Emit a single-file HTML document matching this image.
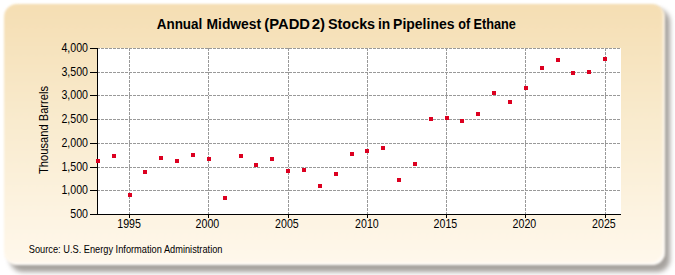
<!DOCTYPE html>
<html><head><meta charset="utf-8">
<style>
html,body{margin:0;padding:0;background:#fff;width:675px;height:275px;overflow:hidden;}
.panel{position:absolute;left:4px;top:4px;width:661px;height:261px;border-radius:13px;
background:linear-gradient(to bottom,#f5deb3 0%,#f9ebce 45%,#fff8ec 100%);box-shadow:inset -2px -2px 2px rgba(255,255,255,0.75);filter:blur(1.3px);}
.shadow{position:absolute;left:10px;top:9px;width:660px;height:263px;border-radius:13px;background:#a6a29e;filter:blur(2.6px);}
svg{position:absolute;left:0;top:0;}
text{font-family:"Liberation Sans",sans-serif;fill:#000;}
.g{stroke:#999;stroke-width:1;stroke-dasharray:3 1;shape-rendering:crispEdges;}
.a{stroke:#000;stroke-width:1;shape-rendering:crispEdges;}
.m{fill:#dc0020;}
.yl{font-size:12.5px;text-anchor:end;}
.xl{font-size:12.5px;text-anchor:middle;}
.t{font-size:14px;font-weight:bold;}
.s{font-size:10px;}
.yt{font-size:12px;text-anchor:middle;}
</style></head><body>
<div class="shadow"></div><div class="panel"></div>
<svg width="675" height="275" viewBox="0 0 675 275">
<rect x="98" y="48" width="523" height="166" fill="#fff"/>
<line x1="97" y1="48.5" x2="621" y2="48.5" class="g"/>
<line x1="97" y1="72.5" x2="621" y2="72.5" class="g"/>
<line x1="97" y1="95.5" x2="621" y2="95.5" class="g"/>
<line x1="97" y1="119.5" x2="621" y2="119.5" class="g"/>
<line x1="97" y1="143.5" x2="621" y2="143.5" class="g"/>
<line x1="97" y1="167.5" x2="621" y2="167.5" class="g"/>
<line x1="97" y1="190.5" x2="621" y2="190.5" class="g"/>
<line x1="129.5" y1="48" x2="129.5" y2="214" class="g"/>
<line x1="208.5" y1="48" x2="208.5" y2="214" class="g"/>
<line x1="288.5" y1="48" x2="288.5" y2="214" class="g"/>
<line x1="367.5" y1="48" x2="367.5" y2="214" class="g"/>
<line x1="446.5" y1="48" x2="446.5" y2="214" class="g"/>
<line x1="525.5" y1="48" x2="525.5" y2="214" class="g"/>
<line x1="605.5" y1="48" x2="605.5" y2="214" class="g"/>
<line x1="97.5" y1="48" x2="97.5" y2="215" class="a"/>
<line x1="97" y1="214.5" x2="621" y2="214.5" class="a"/>
<line x1="90" y1="48.5" x2="97" y2="48.5" class="a"/>
<line x1="90" y1="72.5" x2="97" y2="72.5" class="a"/>
<line x1="90" y1="95.5" x2="97" y2="95.5" class="a"/>
<line x1="90" y1="119.5" x2="97" y2="119.5" class="a"/>
<line x1="90" y1="143.5" x2="97" y2="143.5" class="a"/>
<line x1="90" y1="167.5" x2="97" y2="167.5" class="a"/>
<line x1="90" y1="190.5" x2="97" y2="190.5" class="a"/>
<line x1="90" y1="214.5" x2="97" y2="214.5" class="a"/>
<line x1="129.5" y1="214" x2="129.5" y2="218" class="a"/>
<line x1="208.5" y1="214" x2="208.5" y2="218" class="a"/>
<line x1="288.5" y1="214" x2="288.5" y2="218" class="a"/>
<line x1="367.5" y1="214" x2="367.5" y2="218" class="a"/>
<line x1="446.5" y1="214" x2="446.5" y2="218" class="a"/>
<line x1="525.5" y1="214" x2="525.5" y2="218" class="a"/>
<line x1="605.5" y1="214" x2="605.5" y2="218" class="a"/>
<rect x="96" y="159" width="4" height="4" class="m"/>
<rect x="112" y="154" width="4" height="4" class="m"/>
<rect x="128" y="193" width="4" height="4" class="m"/>
<rect x="143" y="170" width="4" height="4" class="m"/>
<rect x="159" y="156" width="4" height="4" class="m"/>
<rect x="175" y="159" width="4" height="4" class="m"/>
<rect x="191" y="153" width="4" height="4" class="m"/>
<rect x="207" y="157" width="4" height="4" class="m"/>
<rect x="223" y="196" width="4" height="4" class="m"/>
<rect x="239" y="154" width="4" height="4" class="m"/>
<rect x="254" y="163" width="4" height="4" class="m"/>
<rect x="270" y="157" width="4" height="4" class="m"/>
<rect x="286" y="169" width="4" height="4" class="m"/>
<rect x="302" y="168" width="4" height="4" class="m"/>
<rect x="318" y="184" width="4" height="4" class="m"/>
<rect x="334" y="172" width="4" height="4" class="m"/>
<rect x="350" y="152" width="4" height="4" class="m"/>
<rect x="365" y="149" width="4" height="4" class="m"/>
<rect x="381" y="146" width="4" height="4" class="m"/>
<rect x="397" y="178" width="4" height="4" class="m"/>
<rect x="413" y="162" width="4" height="4" class="m"/>
<rect x="429" y="117" width="4" height="4" class="m"/>
<rect x="445" y="116" width="4" height="4" class="m"/>
<rect x="460" y="119" width="4" height="4" class="m"/>
<rect x="476" y="112" width="4" height="4" class="m"/>
<rect x="492" y="91" width="4" height="4" class="m"/>
<rect x="508" y="100" width="4" height="4" class="m"/>
<rect x="524" y="86" width="4" height="4" class="m"/>
<rect x="540" y="66" width="4" height="4" class="m"/>
<rect x="556" y="58" width="4" height="4" class="m"/>
<rect x="571" y="71" width="4" height="4" class="m"/>
<rect x="587" y="70" width="4" height="4" class="m"/>
<rect x="603" y="57" width="4" height="4" class="m"/>
<text transform="translate(88,52.3) scale(0.85,1)" class="yl">4,000</text>
<text transform="translate(88,76.3) scale(0.85,1)" class="yl">3,500</text>
<text transform="translate(88,99.3) scale(0.85,1)" class="yl">3,000</text>
<text transform="translate(88,123.3) scale(0.85,1)" class="yl">2,500</text>
<text transform="translate(88,147.3) scale(0.85,1)" class="yl">2,000</text>
<text transform="translate(88,171.3) scale(0.85,1)" class="yl">1,500</text>
<text transform="translate(88,194.3) scale(0.85,1)" class="yl">1,000</text>
<text transform="translate(88,218.3) scale(0.85,1)" class="yl">500</text>
<text transform="translate(129.10,228) scale(0.85,1)" class="xl">1995</text>
<text transform="translate(207.40,228) scale(0.85,1)" class="xl">2000</text>
<text transform="translate(286.90,228) scale(0.85,1)" class="xl">2005</text>
<text transform="translate(366.90,228) scale(0.85,1)" class="xl">2010</text>
<text transform="translate(445.40,228) scale(0.85,1)" class="xl">2015</text>
<text transform="translate(524.40,228) scale(0.85,1)" class="xl">2020</text>
<text transform="translate(603.90,228) scale(0.85,1)" class="xl">2025</text>
<text x="156.70" y="28.8" class="t" textLength="45.65" lengthAdjust="spacingAndGlyphs">Annual</text><text x="206.50" y="28.8" class="t" textLength="54.63" lengthAdjust="spacingAndGlyphs">Midwest</text><text x="264.30" y="28.8" class="t" textLength="45.70" lengthAdjust="spacingAndGlyphs">(PADD</text><text x="311.70" y="28.8" class="t" textLength="13.35" lengthAdjust="spacingAndGlyphs">2)</text><text x="328.00" y="28.8" class="t" textLength="47.12" lengthAdjust="spacingAndGlyphs">Stocks</text><text x="378.00" y="28.8" class="t" textLength="12.25" lengthAdjust="spacingAndGlyphs">in</text><text x="393.10" y="28.8" class="t" textLength="61.37" lengthAdjust="spacingAndGlyphs">Pipelines</text><text x="458.20" y="28.8" class="t" textLength="11.92" lengthAdjust="spacingAndGlyphs">of</text><text x="473.50" y="28.8" class="t" textLength="42.29" lengthAdjust="spacingAndGlyphs">Ethane</text>
<text transform="translate(47.6,130) rotate(-90) scale(0.93,1)" class="yt">Thousand Barrels</text>
<text transform="translate(28.8,252.7) scale(0.925,1)" class="s">Source: U.S. Energy Information Administration</text>
</svg>
</body></html>
